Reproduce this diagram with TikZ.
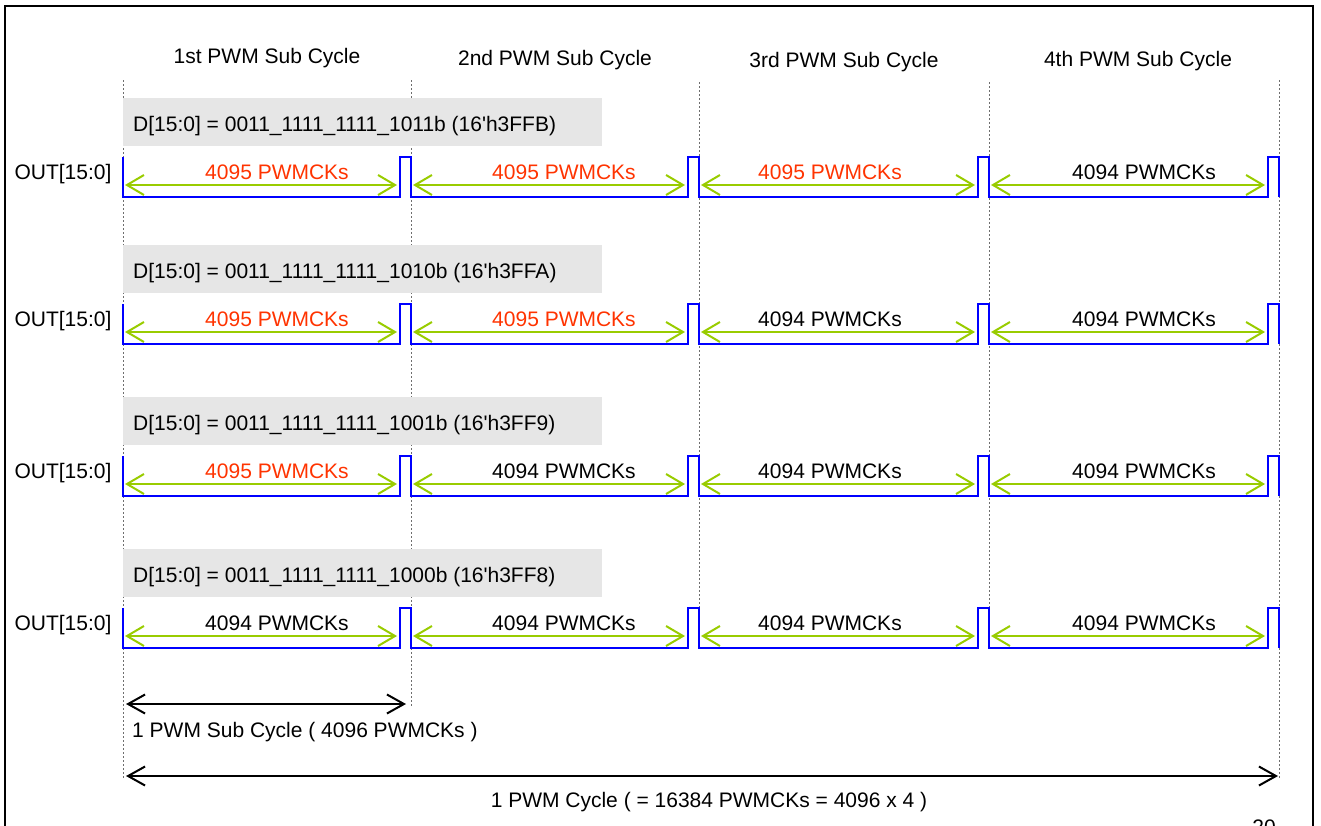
\documentclass[tikz,border=0pt]{standalone}
\usepackage{fontspec}
\setmainfont{Liberation Sans}
\usepackage{tikz}
\usetikzlibrary{arrows.meta}
\definecolor{blu}{HTML}{0000FF}
\definecolor{verde}{HTML}{99CC00}
\definecolor{rosso}{HTML}{FF3300}
\definecolor{grigio}{HTML}{E6E6E6}
\definecolor{puntini}{HTML}{6E6E6E}

\tikzset{
  testo/.style={font=\fontsize{21}{25}\selectfont, inner sep=0pt},
  guida/.style={puntini, line width=1pt, dash pattern=on 2pt off 2pt},
  onda/.style={blu, line width=2.5pt, line join=miter},
  misura/.style={verde, line width=2pt, {Straight Barb[length=17pt,width=20pt]}-{Straight Barb[length=17pt,width=20pt]}},
  ciclo/.style={black, line width=2pt, {Straight Barb[length=17pt,width=19pt]}-{Straight Barb[length=17pt,width=19pt]}},
  riquadro/.style={fill=grigio, draw=none}
}

\begin{document}
\begin{tikzpicture}[x=1pt, y=-1pt]
  \useasboundingbox (0,0) rectangle (1321,825);
  % Frame
  \draw[line width=2pt] (5,6) rectangle (1313,840);
  \node[testo, anchor=base] (pagina) at (1264,834) {20};
  % Sub cycle headers
  \node[testo, anchor=base] (sub1) at (267,63) {1st PWM Sub Cycle};
  \node[testo, anchor=base] (sub2) at (555,65) {2nd PWM Sub Cycle};
  \node[testo, anchor=base] (sub3) at (844,67) {3rd PWM Sub Cycle};
  \node[testo, anchor=base] (sub4) at (1138,66) {4th PWM Sub Cycle};
  % Dotted guides
  \draw[guida] (123,80) -- (123,778);
  \draw[guida] (411,80) -- (411,706);
  \draw[guida] (699,82) -- (699,648);
  \draw[guida] (989,82) -- (989,648);
  \draw[guida] (1279,80) -- (1279,778);
  % Rows
  \foreach \r/\dy/\codice in {1/0/{1011b (16\textquotesingle h3FFB)}, 2/147/{1010b (16\textquotesingle h3FFA)}, 3/299/{1001b (16\textquotesingle h3FF9)}, 4/451/{1000b (16\textquotesingle h3FF8)}}{
    \fill[riquadro] (123,98+\dy) rectangle (602,146+\dy);
    \node[testo, anchor=base west] (d\r) at (133,131+\dy) {D[15:0] = 0011\_1111\_1111\_\codice};
    \node[testo, anchor=base] (out\r) at (63,179+\dy) {OUT[15:0]};
    \draw[onda] (123,157+\dy) -- (123,197+\dy)
      -- (400,197+\dy) -- (400,157+\dy) -- (411,157+\dy) -- (411,197+\dy)
      -- (688,197+\dy) -- (688,157+\dy) -- (699,157+\dy) -- (699,197+\dy)
      -- (978,197+\dy) -- (978,157+\dy) -- (989,157+\dy) -- (989,197+\dy)
      -- (1268,197+\dy) -- (1268,157+\dy) -- (1279,157+\dy) -- (1279,197+\dy);
    \foreach \i/\s/\e/\m in {1/123/411/277, 2/411/699/564, 3/699/989/830, 4/989/1279/1144}{
      \ifnum\i<\numexpr5-\r\relax
        \def\tinta{rosso}\def\conto{4095}
      \else
        \def\tinta{black}\def\conto{4094}
      \fi
      \coordinate (a\r-\i) at (\s+2,185+\dy);
      \coordinate (b\r-\i) at (\e-14,185+\dy);
      \draw[misura] (a\r-\i) -- (b\r-\i);
      \node[testo, anchor=base, text=\tinta] (n\r-\i) at (\m,179+\dy) {\conto{} PWMCKs};
    }
  }
  % One sub cycle
  \coordinate (sub-a) at (126,704);
  \coordinate (sub-b) at (406,704);
  \draw[ciclo] (sub-a) -- (sub-b);
  \node[testo, anchor=base west] (sublbl) at (132,737) {1 PWM Sub Cycle ( 4096 PWMCKs )};
  % Whole cycle
  \coordinate (tot-a) at (126,776);
  \coordinate (tot-b) at (1278,776);
  \draw[ciclo] (tot-a) -- (tot-b);
  \node[testo, anchor=base] (totlbl) at (709,807) {1 PWM Cycle ( = 16384 PWMCKs = 4096 x 4 )};
\end{tikzpicture}
\end{document}
